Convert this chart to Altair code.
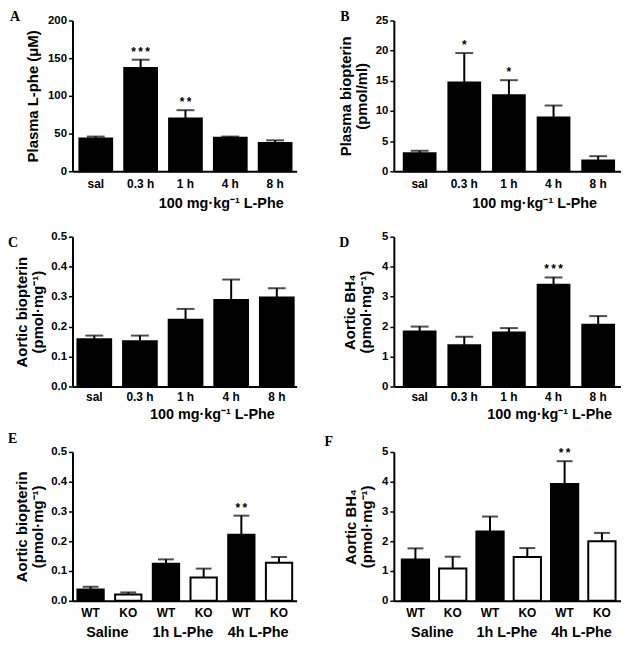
import altair as alt
import pandas as pd

FONT = "Liberation Sans"
SERIF = "Liberation Serif"

# ---------------- data ----------------
time_cats = ["sal", "0.3 h", "1 h", "4 h", "8 h"]

a_vals = [43.5, 137, 70, 44.5, 37.5]
a_hi = [46, 148, 81, 46, 41]
a_stars = ["", "*\u2009*\u2009*", "*\u2009*", "", ""]

b_vals = [3.0, 14.7, 12.6, 8.9, 1.8]
b_hi = [3.4, 19.6, 15.1, 10.9, 2.5]
b_stars = ["", "*", "*", "", ""]

c_vals = [0.158, 0.151, 0.223, 0.289, 0.297]
c_hi = [0.170, 0.170, 0.259, 0.357, 0.328]
c_stars = ["", "", "", "", ""]

d_vals = [1.84, 1.38, 1.80, 3.40, 2.06]
d_hi = [2.00, 1.66, 1.95, 3.64, 2.35]
d_stars = ["", "", "", "*\u2009*\u2009*", ""]

geno_cats = ["Saline|WT", "Saline|KO", "1h L-Phe|WT", "1h L-Phe|KO", "4h L-Phe|WT", "4h L-Phe|KO"]
geno_groups = ["Saline", "", "1h L-Phe", "", "4h L-Phe", ""]
geno_fills = ["black", "white", "black", "white", "black", "white"]

e_vals = [0.038, 0.021, 0.124, 0.078, 0.222, 0.128]
e_hi = [0.047, 0.028, 0.139, 0.108, 0.286, 0.147]
e_stars = ["", "", "", "", "*\u2009*", ""]

f_vals = [1.39, 1.08, 2.33, 1.47, 3.92, 2.00]
f_hi = [1.76, 1.48, 2.83, 1.77, 4.69, 2.28]
f_stars = ["", "", "", "", "*\u2009*", ""]

dose_title = "100 mg\u00b7kg\u207b\u00b9 L-Phe"


def band_params(W, n, offset, step, bw):
    p = 1 - bw / step
    o = max(0.0, (W / step - n + p) / 2)
    step_real = W / (n - p + 2 * o)
    free = W - step_real * (n - p)
    a = min(1.0, max(0.0, offset / free)) if free > 0 else 0.5
    return p, o, a


def panel(cats, vals, his, stars, fills, letter, lx, ly, ytitle, ymax, yticks, yfmt,
          ytitle_x, xtitle, xtitle_x, W, H, band, cap, groups=None, lpad=7, xty=37):
    df = pd.DataFrame({"cat": cats, "val": vals, "hi": his, "star": stars, "fill": fills})
    if groups is not None:
        df["group"] = groups
    p, o, a = band_params(W, len(cats), *band)

    xaxis = dict(domainColor="black", domainWidth=2, ticks=False, tickSize=0, labelAngle=0,
                 labelFont=FONT, labelFontWeight="bold", labelFontSize=12, labelColor="black",
                 labelPadding=lpad, labelBaseline="top", grid=False)
    if groups is not None:
        xaxis["labelExpr"] = "split(datum.label, '|')[1]"
        x = alt.X("cat:N", sort=cats, scale=alt.Scale(paddingInner=p, paddingOuter=o, align=a),
                  axis=alt.Axis(**xaxis), title=None)
    else:
        xaxis.update(title=xtitle, titleX=xtitle_x, titleY=xty, titleAlign="center",
                     titleBaseline="alphabetic", titleFont=FONT, titleFontSize=14.5,
                     titleFontWeight="bold", titleColor="black")
        x = alt.X("cat:N", sort=cats, scale=alt.Scale(paddingInner=p, paddingOuter=o, align=a),
                  axis=alt.Axis(**xaxis))

    yaxis = alt.Axis(values=yticks, format=yfmt, title=ytitle, titleX=ytitle_x, titleY=H / 2,
                     titleAngle=270, titleAlign="center", titleBaseline="middle",
                     titleFont=FONT, titleFontSize=15, titleFontWeight="bold", titleColor="black",
                     titleLineHeight=16, domainColor="black", domainWidth=2, tickColor="black",
                     tickWidth=1.5, tickSize=4, labelFont=FONT, labelFontSize=11.5,
                     labelFontWeight="bold", labelColor="black", labelPadding=2, grid=False)
    yscale = alt.Scale(domain=[0, ymax], nice=False, zero=True)

    base = alt.Chart(df)
    bars = base.mark_bar(stroke="black", strokeWidth=2).encode(
        x=x, y=alt.Y("val:Q", scale=yscale, axis=yaxis),
        fill=alt.Fill("fill:N", scale=None))
    rule = base.mark_rule(color="black", strokeWidth=2).encode(
        x=x, y=alt.Y("val:Q", scale=yscale, axis=yaxis), y2="hi:Q")
    tick = base.mark_tick(color="black", size=cap, thickness=2).encode(
        x=x, y=alt.Y("hi:Q", scale=yscale, axis=yaxis))
    star = base.transform_filter("datum.star != ''").mark_text(
        font=FONT, fontWeight="bold", fontSize=12, baseline="middle", dy=-8, color="black").encode(
        x=x, y=alt.Y("hi:Q", scale=yscale, axis=yaxis), text="star:N")
    lab = alt.Chart(pd.DataFrame({"t": [letter]})).mark_text(
        font=SERIF, fontWeight="bold", fontSize=14, align="left", baseline="top", color="black").encode(
        x=alt.value(lx), y=alt.value(ly), text="t:N")
    layers = [bars, rule, tick, star, lab]
    if groups is not None:
        grp = base.transform_filter("datum.group != ''").mark_text(
            font=FONT, fontWeight="bold", fontSize=14.5, baseline="middle", dx=17, color="black").encode(
            x=x, y=alt.value(H + 32.5), text="group:N")
        layers.append(grp)
    return alt.layer(*layers).properties(width=W, height=H)


W1, W2 = 226, 229
blk5 = ["black"] * 5

pA = panel(time_cats, a_vals, a_hi, a_stars, blk5, "A", -63, -10, "Plasma L-phe (\u03bcM)",
           200, [0, 50, 100, 150, 200], "d", -40, dose_title, 149.5, W1, 152, (7, 45.2, 33), 18)
pB = panel(time_cats, b_vals, b_hi, b_stars, blk5, "B", -54, -10, ["Plasma biopterin", "(pmol/ml)"],
           25, [0, 5, 10, 15, 20, 25], "d", -49, dose_title, 141.5, W2, 152, (10, 45, 32), 18)
pC = panel(time_cats, c_vals, c_hi, c_stars, blk5, "C", -65, -1, ["Aortic biopterin", "(pmol\u00b7mg\u207b\u00b9)"],
           0.5, [0, 0.1, 0.2, 0.3, 0.4, 0.5], ".1f", -51, dose_title, 140.5, W1, 151, (5, 46, 34), 18,
           lpad=5, xty=32)
pD = panel(time_cats, d_vals, d_hi, d_stars, blk5, "D", -55, -1, ["Aortic BH\u2084", "(pmol\u00b7mg\u207b\u00b9)"],
           5, [0, 1, 2, 3, 4, 5], "d", -45, dose_title, 156.5, W2, 151, (10, 45, 32), 18,
           lpad=5, xty=32)
pE = panel(geno_cats, e_vals, e_hi, e_stars, geno_fills, "E", -65, -20, ["Aortic biopterin", "(pmol\u00b7mg\u207b\u00b9)"],
           0.5, [0, 0.1, 0.2, 0.3, 0.4, 0.5], ".1f", -51, None, 0, W1, 150, (5, 38, 26.5), 16,
           groups=geno_groups)
pF = panel(geno_cats, f_vals, f_hi, f_stars, geno_fills, "F", -70, -17, ["Aortic BH\u2084", "(pmol\u00b7mg\u207b\u00b9)"],
           5, [0, 1, 2, 3, 4, 5], "d", -44, None, 0, W2, 150, (8, 37.6, 27.5), 16,
           groups=geno_groups)

chart = alt.concat(pA, pB, pC, pD, pE, pF, columns=2,
                   spacing={"row": 66, "column": 98}, bounds="flush").properties(
    padding=0, background="white").configure_view(stroke=None)

chart.save("out.html", embed_options={"renderer": "svg", "actions": False})
